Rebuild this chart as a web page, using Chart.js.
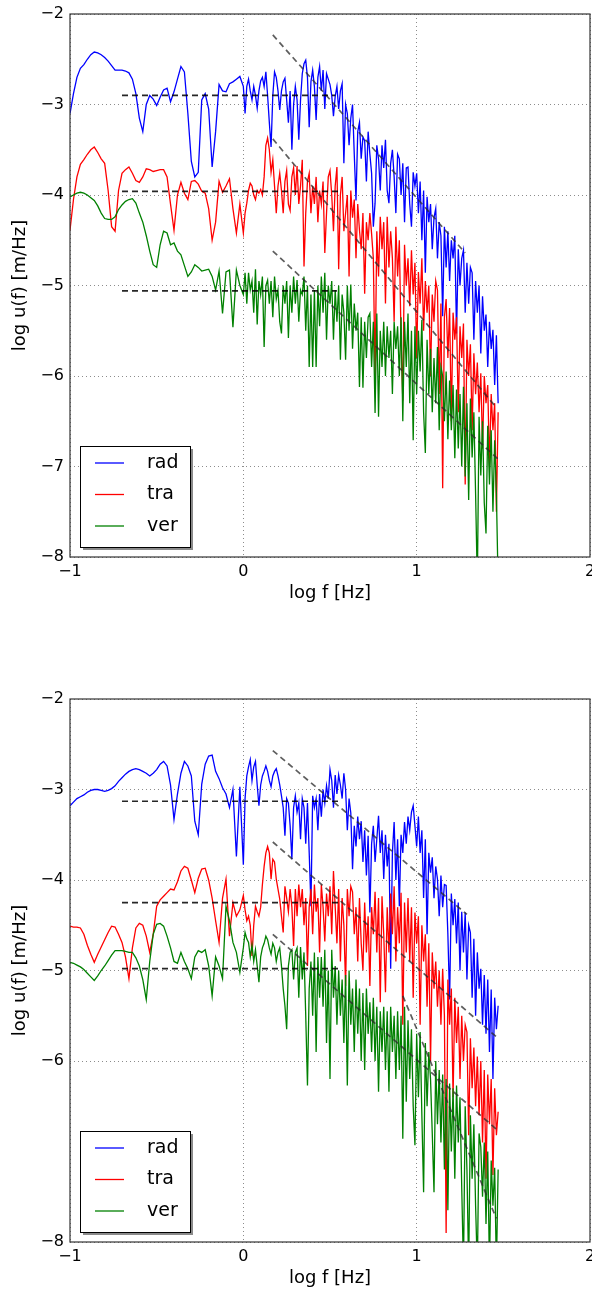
<!DOCTYPE html>
<html>
<head>
<meta charset="utf-8">
<script src="https://cdn.jsdelivr.net/npm/chart.js@4.4.1/dist/chart.umd.min.js"></script>
<style>
  html, body { margin: 0; padding: 0; background: #fff; overflow: hidden; }
  canvas { position: absolute; left: 0; }
  #topPlot { top: 0; }
  #bottomPlot { top: 685px; }
</style>
</head>
<body>
<canvas id="topPlot" width="592" height="620"></canvas>
<canvas id="bottomPlot" width="592" height="620"></canvas>
<script>
// --- DATA ---
// log f [Hz] sampling shared by every spectrum
const logF = [
  -1.00, -0.98, -0.96, -0.94, -0.92, -0.90, -0.88, -0.86, -0.84, -0.82,
  -0.80, -0.78, -0.76, -0.74, -0.72, -0.70, -0.68, -0.66, -0.64, -0.62,
  -0.60, -0.58, -0.56, -0.54, -0.52, -0.50, -0.48, -0.46, -0.44, -0.42,
  -0.40, -0.38, -0.36, -0.34, -0.32, -0.30, -0.28, -0.26, -0.24, -0.22,
  -0.20, -0.18, -0.16, -0.14, -0.12, -0.10, -0.08, -0.06, -0.04, -0.02,
  0.00, 0.01, 0.02, 0.03, 0.04, 0.05, 0.06, 0.07, 0.08, 0.09,
  0.10, 0.11, 0.12, 0.13, 0.14, 0.15, 0.16, 0.17, 0.18, 0.19,
  0.20, 0.21, 0.22, 0.23, 0.24, 0.25, 0.26, 0.27, 0.28, 0.29,
  0.30, 0.31, 0.32, 0.33, 0.34, 0.35, 0.36, 0.37, 0.38, 0.39,
  0.40, 0.41, 0.42, 0.43, 0.44, 0.45, 0.46, 0.47, 0.48, 0.49,
  0.50, 0.51, 0.52, 0.53, 0.54, 0.55, 0.56, 0.57, 0.58, 0.59,
  0.60, 0.61, 0.62, 0.63, 0.64, 0.65, 0.66, 0.67, 0.68, 0.69,
  0.70, 0.71, 0.72, 0.73, 0.74, 0.75, 0.76, 0.77, 0.78, 0.79,
  0.80, 0.81, 0.82, 0.83, 0.84, 0.85, 0.86, 0.87, 0.88, 0.89,
  0.90, 0.91, 0.92, 0.93, 0.94, 0.95, 0.96, 0.97, 0.98, 0.99,
  1.00, 1.01, 1.02, 1.03, 1.04, 1.05, 1.06, 1.07, 1.08, 1.09,
  1.10, 1.11, 1.12, 1.13, 1.14, 1.15, 1.16, 1.17, 1.18, 1.19,
  1.20, 1.21, 1.22, 1.23, 1.24, 1.25, 1.26, 1.27, 1.28, 1.29,
  1.30, 1.31, 1.32, 1.33, 1.34, 1.35, 1.36, 1.37, 1.38, 1.39,
  1.40, 1.41, 1.42, 1.43, 1.44, 1.45, 1.46, 1.47
];

// upper panel, log u(f) [m/Hz]
const radTop = [
  -3.10, -2.88, -2.70, -2.60, -2.56, -2.50, -2.45, -2.42, -2.43, -2.45,
  -2.48, -2.52, -2.57, -2.62, -2.62, -2.62, -2.63, -2.65, -2.72, -2.88,
  -3.15, -3.30, -3.00, -2.90, -2.94, -3.01, -2.92, -2.84, -2.82, -2.97,
  -2.86, -2.72, -2.58, -2.64, -3.10, -3.63, -3.80, -3.75, -2.95, -2.88,
  -3.05, -3.69, -3.30, -2.78, -2.85, -2.86, -2.77, -2.75, -2.72, -2.69,
  -2.80, -3.10, -2.80, -2.72, -2.85, -2.95, -2.80, -2.90, -3.04, -2.85,
  -2.74, -2.70, -2.80, -2.64, -2.90, -3.20, -3.47, -2.90, -2.64, -2.70,
  -2.85, -3.06, -2.85, -2.75, -2.71, -2.95, -3.20, -2.85, -3.50, -3.00,
  -2.80, -2.95, -3.39, -2.95, -2.66, -2.55, -2.51, -2.70, -3.25, -2.75,
  -2.62, -2.80, -3.17, -2.70, -2.58, -2.85, -2.62, -3.05, -2.66, -2.72,
  -2.78, -2.90, -3.13, -2.91, -2.80, -3.05, -2.85, -2.77, -3.65, -3.00,
  -3.10, -3.45, -3.15, -3.00, -3.55, -4.06, -3.30, -3.20, -3.60, -3.36,
  -3.40, -3.85, -3.30, -3.55, -3.76, -4.35, -4.09, -3.45, -3.60, -3.95,
  -3.45, -3.70, -3.39, -3.95, -4.09, -3.65, -3.50, -3.80, -4.20, -3.55,
  -3.60, -4.00, -3.65, -4.30, -3.70, -3.69, -4.10, -4.35, -3.75, -3.90,
  -3.76, -4.20, -3.85, -4.50, -3.95, -4.86, -4.02, -4.30, -4.10, -4.60,
  -4.25, -4.15, -4.70, -4.30, -4.45, -5.34, -4.35, -4.80, -4.40, -4.95,
  -4.50, -4.70, -4.45, -5.53, -4.60, -5.00, -4.70, -4.61, -5.30, -4.75,
  -5.20, -4.80, -4.86, -5.60, -4.95, -5.30, -5.00, -5.75, -5.12, -5.50,
  -5.32, -5.90, -5.40, -5.70, -5.49, -6.10, -5.55, -6.30
];
const traTop = [
  -4.39, -4.05, -3.80, -3.66, -3.61, -3.55, -3.50, -3.47, -3.53, -3.60,
  -3.65, -3.95, -4.35, -4.40, -3.95, -3.76, -3.72, -3.69, -3.76, -3.84,
  -3.86, -3.80, -3.71, -3.72, -3.74, -3.73, -3.72, -3.72, -3.80, -4.10,
  -4.39, -4.00, -3.86, -3.98, -4.05, -3.85, -3.84, -3.88, -3.96, -3.98,
  -4.15, -4.50, -4.30, -3.85, -3.97, -3.90, -3.82, -4.15, -4.42, -4.10,
  -4.42, -4.20, -4.09, -3.95, -3.87, -3.90, -4.00, -4.05, -3.95, -3.98,
  -3.94, -4.00, -3.80, -3.45, -3.37, -3.50, -3.75, -3.61, -3.90, -4.20,
  -3.90, -3.76, -3.95, -4.20, -3.85, -3.73, -4.10, -4.17, -3.80, -3.70,
  -4.00, -3.68, -4.10, -3.90, -3.61, -4.79, -4.20, -3.85, -3.76, -4.20,
  -3.90, -4.10, -3.80, -4.30, -3.95, -4.10, -3.85, -4.64, -4.20, -3.80,
  -3.73, -4.00, -4.40, -3.90, -3.69, -4.82, -4.00, -3.80, -4.40, -4.20,
  -4.00, -4.90, -3.95, -4.25, -4.05, -4.70, -4.10, -4.39, -4.60, -4.20,
  -5.09, -4.30, -4.50, -4.20, -4.43, -4.70, -6.04, -4.40, -4.90, -4.24,
  -4.60, -4.30, -5.20, -4.24, -4.80, -4.40, -4.70, -5.40, -4.35, -4.90,
  -4.50, -5.60, -6.27, -4.55, -5.00, -4.70, -5.23, -4.61, -5.10, -4.75,
  -5.80, -4.85, -5.20, -4.70, -5.50, -4.95, -5.30, -5.00, -6.00, -5.10,
  -5.40, -4.95, -5.05, -6.20, -5.20, -7.24, -5.35, -5.15, -5.80, -5.25,
  -6.50, -5.30, -5.60, -5.35, -6.40, -5.45, -5.80, -5.42, -7.20, -5.60,
  -6.00, -5.65, -6.60, -5.75, -6.20, -5.85, -6.40, -5.97, -6.80, -6.00,
  -6.30, -6.10, -7.00, -6.20, -6.60, -6.30, -7.50, -6.40
];
const verTop = [
  -4.02, -4.00, -3.98, -3.97, -3.98, -4.00, -4.03, -4.06, -4.12, -4.20,
  -4.26, -4.27, -4.27, -4.24, -4.16, -4.11, -4.07, -4.05, -4.04, -4.09,
  -4.20, -4.30, -4.45, -4.62, -4.77, -4.80, -4.55, -4.40, -4.42, -4.55,
  -4.53, -4.62, -4.66, -4.78, -4.90, -4.85, -4.77, -4.80, -4.84, -4.83,
  -4.82, -4.90, -5.05, -4.84, -5.31, -4.85, -4.83, -5.46, -4.83, -5.00,
  -5.10, -4.86, -5.20, -4.86, -5.05, -4.95, -5.30, -4.82, -5.43, -4.95,
  -5.10, -4.90, -5.68, -5.00, -4.94, -5.20, -4.95, -5.35, -4.90, -5.15,
  -5.05, -5.40, -5.53, -5.00, -5.20, -4.95, -5.58, -5.00, -5.30, -4.90,
  -5.20, -4.94, -5.40, -5.05, -5.10, -4.90, -5.50, -5.00, -5.90, -5.10,
  -5.90, -5.05, -5.90, -5.00, -5.45, -4.90, -5.30, -4.86, -5.60, -5.00,
  -5.20, -4.95, -5.60, -5.05, -5.40, -5.00, -5.82, -5.10, -5.30, -5.82,
  -5.00, -5.50, -4.99, -5.70, -5.20, -5.50, -5.30, -6.12, -5.35, -6.13,
  -5.40, -5.80, -5.35, -5.31, -5.90, -5.40, -6.41, -5.31, -6.45, -5.50,
  -5.90, -5.40, -6.00, -5.45, -5.80, -5.50, -6.20, -5.40, -5.70, -5.45,
  -6.00, -5.35, -6.50, -5.40, -5.90, -5.31, -6.30, -5.50, -6.71, -5.45,
  -6.20, -5.50, -5.95, -5.38, -6.40, -6.85, -5.60, -6.20, -5.70, -6.40,
  -5.80, -6.30, -5.68, -6.60, -5.90, -6.00, -6.50, -5.95, -6.70, -6.05,
  -6.60, -6.10, -6.91, -6.15, -6.80, -6.20, -7.00, -6.12, -7.11, -6.30,
  -7.37, -6.25, -6.90, -6.40, -7.30, -8.30, -6.45, -7.10, -6.50, -7.40,
  -7.74, -6.55, -7.20, -6.60, -7.50, -6.71, -7.30, -8.30
];

// lower panel
const radBottom = [
  -3.18, -3.14, -3.10, -3.08, -3.06, -3.03, -3.01, -3.00, -3.00, -3.01,
  -3.02, -3.01, -2.99, -2.96, -2.91, -2.87, -2.83, -2.80, -2.78, -2.77,
  -2.78, -2.80, -2.82, -2.85, -2.82, -2.78, -2.72, -2.69, -2.74, -2.95,
  -3.33, -3.05, -2.82, -2.69, -2.74, -2.85, -3.35, -3.50, -2.94, -2.72,
  -2.63, -2.62, -2.80, -2.88, -2.98, -3.05, -3.20, -3.00, -3.74, -2.97,
  -3.83, -3.10, -2.85, -2.75, -2.67, -2.90, -2.75, -2.69, -2.95, -3.18,
  -2.95, -2.85, -2.80, -2.74, -2.80, -2.90, -2.97, -2.85, -2.80, -2.77,
  -2.85, -2.95, -3.07, -3.20, -3.51, -3.10, -3.15, -3.40, -3.77, -3.20,
  -3.07, -3.25, -3.15, -3.55, -3.10, -3.20, -3.60, -3.15, -3.70, -4.29,
  -3.07, -3.20, -3.10, -3.45, -3.05, -3.30, -3.00, -3.15, -2.96, -3.10,
  -2.78, -2.90, -3.20, -2.84, -3.05, -2.84, -2.95, -3.10, -2.82, -3.00,
  -3.45, -3.10, -3.26, -3.88, -3.40, -3.63, -3.30, -3.55, -3.35, -3.80,
  -3.45, -3.95, -3.51, -4.36, -3.60, -3.40, -3.80, -3.55, -3.29, -3.70,
  -3.45, -3.99, -3.50, -3.85, -3.60, -4.98, -3.70, -3.36, -4.00, -3.55,
  -4.29, -3.50, -3.70, -3.36, -3.60, -3.30, -3.45, -3.25, -3.18, -3.40,
  -3.63, -3.30, -3.70, -3.45, -4.20, -3.55, -4.60, -3.70, -3.92, -3.75,
  -4.20, -3.85, -3.99, -4.40, -3.95, -4.30, -4.05, -4.06, -4.60, -5.32,
  -4.15, -4.50, -4.21, -4.70, -4.25, -5.00, -4.35, -4.80, -4.36, -5.10,
  -4.50, -4.58, -5.30, -4.65, -5.50, -4.80, -5.20, -4.98, -5.60, -5.05,
  -5.70, -5.10, -5.90, -5.21, -6.20, -5.30, -5.65, -5.39
];
const traBottom = [
  -4.51, -4.52, -4.52, -4.53, -4.60, -4.72, -4.82, -4.91, -4.82, -4.74,
  -4.66, -4.58, -4.51, -4.52, -4.60, -4.69, -4.85, -5.09, -4.75, -4.53,
  -4.48, -4.50, -4.62, -4.80, -4.60, -4.29, -4.22, -4.18, -4.14, -4.10,
  -4.11, -4.02, -3.90, -3.85, -3.87, -4.00, -4.14, -3.98, -3.88, -3.87,
  -4.00, -4.20, -4.45, -4.69, -4.20, -3.99, -4.62, -4.25, -4.40, -4.33,
  -4.17, -4.33, -4.45, -4.40, -4.50, -4.84, -4.50, -4.29, -4.35, -4.40,
  -4.30, -4.05, -3.85, -3.70, -3.63, -3.70, -3.99, -3.77, -3.80, -3.99,
  -4.10, -4.21, -4.40, -4.58, -4.07, -4.20, -4.35, -4.10, -4.30, -4.73,
  -4.10, -4.40, -4.05, -4.30, -4.10, -4.50, -4.20, -4.95, -4.30, -4.10,
  -4.60, -4.05, -4.35, -4.20, -4.80, -4.05, -4.30, -4.68, -4.15, -4.40,
  -4.07, -4.60, -3.90, -4.30, -4.70, -4.10, -4.90, -4.20, -4.50, -5.17,
  -4.10, -4.40, -4.07, -4.13, -4.60, -4.30, -4.90, -4.20, -4.70, -5.00,
  -4.25, -4.80, -4.40, -5.17, -4.30, -4.60, -4.13, -4.80, -4.20, -5.35,
  -4.18, -4.60, -5.24, -4.30, -4.80, -4.15, -4.60, -4.07, -4.90, -4.30,
  -4.70, -4.14, -5.60, -4.25, -4.80, -4.20, -4.90, -4.30, -5.30, -4.36,
  -4.70, -4.40, -5.60, -4.50, -4.90, -4.60, -5.40, -4.70, -6.00, -4.80,
  -5.20, -4.90, -5.40, -5.00, -5.60, -4.98, -5.50, -7.90, -5.10, -5.60,
  -5.20, -6.40, -5.30, -5.80, -5.40, -6.20, -5.50, -6.00, -5.60, -5.68,
  -6.82, -5.75, -6.30, -5.85, -6.50, -5.95, -6.60, -6.00, -6.90, -6.10,
  -7.30, -6.15, -6.70, -6.20, -7.26, -6.30, -6.82, -6.56
];
const verBottom = [
  -4.91, -4.92, -4.94, -4.96, -4.99, -5.03, -5.07, -5.11, -5.06, -5.00,
  -4.95, -4.89, -4.83, -4.78, -4.78, -4.78, -4.79, -4.80, -4.80, -4.86,
  -4.95, -5.10, -5.32, -4.90, -4.60, -4.49, -4.48, -4.51, -4.62, -4.75,
  -4.90, -4.92, -4.80, -4.90, -4.98, -5.09, -4.85, -4.78, -4.80, -4.77,
  -4.95, -5.28, -4.85, -4.95, -5.09, -4.29, -4.45, -4.69, -4.80, -5.02,
  -4.75, -4.58, -4.65, -4.69, -4.85, -4.72, -4.90, -4.77, -4.95, -5.13,
  -4.85, -4.75, -4.70, -4.62, -4.66, -4.75, -4.82, -4.70, -4.75, -4.90,
  -4.80, -4.75, -4.95, -5.20, -5.39, -5.65, -4.95, -4.80, -4.77, -5.10,
  -4.80, -4.75, -5.30, -4.74, -5.10, -4.80, -5.50, -6.27, -5.20, -4.90,
  -5.50, -4.80, -5.90, -4.85, -5.30, -4.85, -5.40, -4.77, -5.80, -5.00,
  -6.20, -4.77, -5.30, -4.95, -5.60, -5.00, -5.50, -5.10, -5.80, -5.05,
  -6.27, -5.00, -5.60, -5.20, -5.90, -5.10, -5.70, -5.20, -6.00, -5.25,
  -6.10, -5.20, -5.70, -5.35, -5.90, -5.30, -6.00, -5.40, -6.34, -5.45,
  -5.90, -5.40, -6.10, -5.45, -6.34, -5.40, -5.90, -5.50, -6.20, -5.45,
  -6.10, -5.50, -6.86, -5.40, -6.45, -5.55, -6.20, -5.65, -6.50, -6.93,
  -5.70, -6.40, -5.68, -6.60, -7.45, -5.80, -6.50, -5.90, -6.20, -6.80,
  -7.45, -6.00, -6.70, -6.10, -6.90, -6.15, -7.20, -6.20, -7.65, -6.25,
  -7.00, -6.30, -7.30, -6.27, -6.90, -6.40, -7.40, -8.30, -6.50, -7.20,
  -8.30, -6.60, -7.30, -6.70, -7.60, -8.30, -6.80, -6.95, -7.50, -6.90,
  -7.80, -7.00, -8.30, -7.10, -7.60, -7.18, -8.30, -7.20
];

// dashed fits: [x1, y1, x2, y2]
const fitTop = [
  [-0.70, -2.90, 0.53, -2.90],
  [-0.70, -3.96, 0.56, -3.96],
  [-0.70, -5.06, 0.54, -5.06],
  [0.17, -2.23, 1.28, -4.64],
  [0.17, -3.38, 1.46, -6.35],
  [0.17, -4.62, 1.47, -6.92]
];
const fitBottom = [
  [-0.70, -3.13, 0.56, -3.13],
  [-0.70, -4.25, 0.56, -4.25],
  [-0.70, -4.98, 0.56, -4.98],
  [0.17, -2.57, 1.29, -4.38],
  [0.17, -3.58, 1.47, -5.75],
  [0.17, -4.60, 1.47, -6.77],
  [0.92, -5.28, 1.46, -7.74]
];

const seriesNames = ['rad', 'tra', 'ver'];
const seriesColors = ['#0000ff', '#ff0000', '#008000'];
const xTicks = [-1, 0, 1, 2];
const yTicksTop = [-8, -7, -6, -5, -4, -3, -2];
const yTicksBottom = [-8, -6, -5, -4, -3, -2];

// --- HELPERS ---
const getEl = (id) => document.getElementById(id);
const minusLabel = (v) => (v < 0 ? '\u2212' + Math.abs(v) : String(v));

Chart.defaults.font.family = '"DejaVu Sans", sans-serif';
Chart.defaults.color = '#000';

// axes frame drawn over the lines, like matplotlib spines
const framePlugin = {
  id: 'frame',
  afterDatasetsDraw(chart) {
    const { ctx, chartArea: a } = chart;
    ctx.save();
    ctx.strokeStyle = '#333';
    ctx.lineWidth = 1.2;
    ctx.strokeRect(a.left, a.top, a.right - a.left, a.bottom - a.top);
    ctx.restore();
  }
};

// boxed legend in the lower-left corner
const boxLegend = {
  id: 'boxLegend',
  afterDraw(chart) {
    const { ctx, chartArea: a } = chart;
    const w = 110, h = 101;
    const left = a.left + 10, top = a.bottom - 10 - h;
    ctx.save();
    ctx.fillStyle = '#8a8a8a';
    ctx.fillRect(left + 3, top + 3, w, h);
    ctx.fillStyle = '#fff';
    ctx.fillRect(left, top, w, h);
    ctx.strokeStyle = '#000';
    ctx.lineWidth = 1;
    ctx.strokeRect(left + 0.5, top + 0.5, w, h);
    ctx.font = '19px "DejaVu Sans", sans-serif';
    ctx.textBaseline = 'middle';
    ctx.textAlign = 'left';
    seriesNames.forEach((name, i) => {
      const y = top + 17 + i * 31.5;
      ctx.strokeStyle = seriesColors[i];
      ctx.lineWidth = 1.3;
      ctx.beginPath();
      ctx.moveTo(left + 15, y);
      ctx.lineTo(left + 44, y);
      ctx.stroke();
      ctx.fillStyle = '#000';
      ctx.fillText(name, left + 67, y);
    });
    ctx.restore();
  }
};

const makeChart = (id, spectra, fits, yTicks) => {
  const datasets = [];
  fits.forEach((f) => datasets.push({
    data: [{ x: f[0], y: f[1] }, { x: f[2], y: f[3] }],
    borderColor: f[1] === f[3] ? 'rgba(0,0,0,0.85)' : 'rgba(40,40,40,0.75)',
    borderWidth: 1.7,
    borderDash: [6, 4],
    pointRadius: 0,
    order: 0
  }));
  spectra.forEach((ys, i) => datasets.push({
    label: seriesNames[i],
    data: logF.map((x, k) => ({ x, y: ys[k] })),
    borderColor: seriesColors[i],
    borderWidth: 1.3,
    pointRadius: 0,
    tension: 0,
    order: 3 + (2 - i)   // blue underneath, green on top
  }));

  return new Chart(getEl(id), {
    type: 'line',
    data: { datasets },
    options: {
      responsive: false,
      animation: false,
      events: [],
      layout: { padding: { top: 14, right: 2, left: 0, bottom: 0 } },
      plugins: { legend: { display: false }, tooltip: { enabled: false } },
      scales: {
        x: {
          type: 'linear',
          min: -1,
          max: 2,
          afterBuildTicks: (s) => { s.ticks = xTicks.map((v) => ({ value: v })); },
          afterFit: (s) => { s.height = 63; s.paddingLeft = 0; s.paddingRight = 0; },
          ticks: { callback: minusLabel, padding: 5, font: { size: 16 }, maxRotation: 0, autoSkip: false },
          grid: { color: 'rgba(0,0,0,0.45)', lineWidth: 1, drawTicks: false },
          border: { display: false, dash: [1, 3] },
          title: { display: true, text: 'log f [Hz]', font: { size: 18 }, padding: { top: 0, bottom: 16 } }
        },
        y: {
          type: 'linear',
          min: -8,
          max: -2,
          afterBuildTicks: (s) => { s.ticks = yTicks.map((v) => ({ value: v })); },
          afterFit: (s) => { s.width = 70; s.paddingTop = 0; s.paddingBottom = 0; },
          ticks: { callback: minusLabel, padding: 6, font: { size: 16 }, autoSkip: false },
          grid: { color: 'rgba(0,0,0,0.45)', lineWidth: 1, drawTicks: false },
          border: { display: false, dash: [1, 3] },
          title: { display: true, text: 'log u(f) [m/Hz]', font: { size: 18 }, padding: { top: 10, bottom: 0 } }
        }
      }
    },
    plugins: [framePlugin, boxLegend]
  });
};

makeChart('topPlot', [radTop, traTop, verTop], fitTop, yTicksTop);
makeChart('bottomPlot', [radBottom, traBottom, verBottom], fitBottom, yTicksBottom);
</script>
</body>
</html>
